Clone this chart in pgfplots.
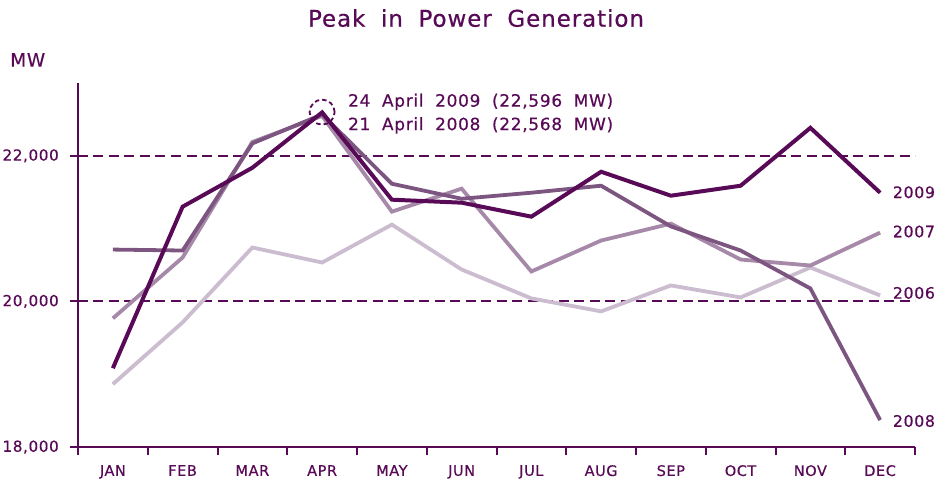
\documentclass[border=0pt]{standalone}
\usepackage{fontspec}
\setmainfont{DejaVu Sans}[WordSpace=1.9, LetterSpace=4, FakeBold=0.5]
\usepackage{pgfplots}
\pgfplotsset{compat=1.18}
\definecolor{cdark}{RGB}{88,10,86}
\definecolor{cB}{RGB}{124,86,128}
\definecolor{cC}{RGB}{166,137,168}
\definecolor{cD}{RGB}{203,188,207}
\begin{document}
\begin{tikzpicture}
\path[use as bounding box] (-78bp,-32bp) rectangle (863bp,447bp);
\begin{axis}[
  at={(0,0)}, anchor=south west,
  scale only axis, width=837bp, height=364bp,
  xmin=-0.5, xmax=11.5, ymin=18000, ymax=23000,
  axis x line=bottom, axis y line=left,
  axis line style={-, draw=cdark, line width=2bp},
  clip=false,
  tick align=outside,
  major tick length=8bp,
  tick style={draw=cdark, line width=2bp},
  xtick={-0.5,0.5,...,11.5}, xticklabels={},
  extra x ticks={0,1,...,11},
  extra x tick labels={JAN,FEB,MAR,APR,MAY,JUN,JUL,AUG,SEP,OCT,NOV,DEC},
  extra x tick style={tick style={draw=none}},
  xticklabel style={anchor=north, inner sep=0pt, text=cdark, font=\fontsize{14.5bp}{17bp}\selectfont, yshift=-10bp},
  ytick={18000,20000,22000},
  scaled y ticks=false,
  yticklabels={{18,000},{20,000},{22,000}},
  yticklabel style={anchor=east, inner sep=0pt, text=cdark, font=\fontsize{15.2bp}{18bp}\selectfont, xshift=-11bp},
  ymajorgrids,
  major grid style={draw=cdark, line width=1.9bp, dash pattern=on 10bp off 5.5bp},
]
\addplot[cD, line width=3.8bp] coordinates {(0,18863) (1,19712) (2,20740) (3,20534) (4,21055) (5,20438) (6,20041) (7,19863) (8,20219) (9,20055) (10,20466) (11,20082)};
\addplot[cC, line width=3.8bp] coordinates {(0,19767) (1,20603) (2,22190) (3,22548) (4,21233) (5,21548) (6,20411) (7,20836) (8,21068) (9,20575) (10,20493) (11,20945)};
\addplot[cB, line width=3.8bp] coordinates {(0,20712) (1,20699) (2,22170) (3,22568) (4,21616) (5,21410) (6,21493) (7,21589) (8,21030) (9,20699) (10,20178) (11,18370)};
\addplot[cdark, line width=4bp] coordinates {(0,19082) (1,21301) (2,21836) (3,22596) (4,21397) (5,21356) (6,21164) (7,21781) (8,21452) (9,21589) (10,22384) (11,21493)};
\draw[cdark, line width=1.8bp, dash pattern=on 4.5bp off 3bp] (axis cs:3,22600) circle [radius=12.5bp];
\node[anchor=base west, inner sep=0pt, text=cdark, font=\fontsize{17bp}{20bp}\selectfont] at (axis cs:3.37,22675) {24 April 2009 (22,596 MW)};
\node[anchor=base west, inner sep=0pt, text=cdark, font=\fontsize{17bp}{20bp}\selectfont] at (axis cs:3.37,22352) {21 April 2008 (22,568 MW)};
\node[anchor=base west, inner sep=0pt, text=cdark, font=\fontsize{15.8bp}{18bp}\selectfont] at (axis cs:11.18,21420) {2009};
\node[anchor=base west, inner sep=0pt, text=cdark, font=\fontsize{15.8bp}{18bp}\selectfont] at (axis cs:11.18,20881) {2007};
\node[anchor=base west, inner sep=0pt, text=cdark, font=\fontsize{15.8bp}{18bp}\selectfont] at (axis cs:11.18,20037) {2006};
\node[anchor=base west, inner sep=0pt, text=cdark, font=\fontsize{15.8bp}{18bp}\selectfont] at (axis cs:11.18,18278) {2008};
\end{axis}
\node[anchor=base, inner sep=0pt, text=cdark, font=\fontsize{23bp}{27bp}\selectfont] at (398bp,420.3bp) {Peak in Power Generation};
\node[anchor=base west, inner sep=0pt, text=cdark, font=\fontsize{18.5bp}{21bp}\selectfont] at (-68bp,380.3bp) {MW};
\end{tikzpicture}
\end{document}
